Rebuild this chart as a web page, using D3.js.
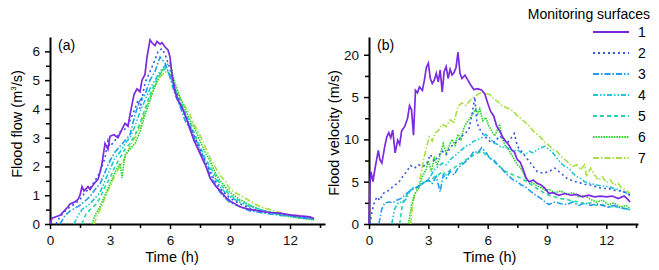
<!DOCTYPE html>
<html>
<head>
<meta charset="utf-8">
<script src="https://cdn.jsdelivr.net/npm/d3@7"></script>
<style>
  body { margin: 0; background: #fff; }
  svg { font-family: "Liberation Sans", Arial, sans-serif; }
</style>
</head>
<body>
<svg id="chart" width="659" height="270"></svg>
<script>
// Monitoring surfaces 1..7
const surfaces = ["1", "2", "3", "4", "5", "6", "7"];
const xTicks = [0, 3, 6, 9, 12];
const flowTicks = [0, 1, 2, 3, 4, 5, 6];
const velTicks = [0, 5, 10, 15, 20];
const velTickLabels = ["0", "5", "10", "5", "20"];

// (a) flood flow, [time h, m3/s]
const flow1 = [[0,0],[0.1,0.2],[0.3,0.25],[0.5,0.3],[0.7,0.45],[0.9,0.6],[1.0,0.7],[1.2,0.75],[1.4,0.85],[1.5,1.0],[1.6,1.3],[1.7,1.15],[1.9,1.3],[2.0,1.2],[2.2,1.4],[2.4,1.55],[2.5,1.8],[2.6,2.1],[2.75,2.8],[2.9,2.6],[3.0,3.05],[3.2,3.1],[3.4,3.0],[3.6,3.3],[3.75,3.5],[3.9,3.4],[4.0,3.8],[4.2,4.5],[4.35,4.7],[4.5,4.6],[4.6,5.0],[4.75,5.2],[4.85,5.8],[5.0,6.4],[5.1,6.3],[5.25,6.2],[5.35,6.35],[5.5,6.25],[5.6,6.3],[5.75,6.15],[5.9,6.05],[6.0,5.8],[6.1,5.2],[6.25,4.6],[6.4,4.3],[6.6,4.05],[6.8,3.7],[7.0,3.3],[7.2,2.9],[7.4,2.6],[7.6,2.3],[7.8,2.0],[8.0,1.6],[8.25,1.35],[8.5,1.15],[8.75,0.95],[9.0,0.8],[9.25,0.7],[9.5,0.6],[10.0,0.5],[10.5,0.45],[11.0,0.4],[11.5,0.38],[12.0,0.32],[12.5,0.28],[13.0,0.25],[13.2,0.18]];
const flow2 = [[0.3,0],[0.5,0.25],[0.75,0.45],[1.0,0.6],[1.25,0.7],[1.5,0.85],[1.75,1.1],[2.0,1.25],[2.25,1.5],[2.5,1.8],[2.75,2.3],[2.9,2.9],[3.0,2.7],[3.25,2.9],[3.5,3.2],[3.75,3.3],[4.0,3.6],[4.25,4.0],[4.4,4.3],[4.5,4.0],[4.75,4.9],[5.0,5.3],[5.25,5.7],[5.4,6.0],[5.6,6.1],[5.75,5.9],[6.0,5.4],[6.25,4.7],[6.5,4.2],[6.75,3.8],[7.0,3.4],[7.25,3.0],[7.5,2.6],[7.75,2.2],[8.0,1.8],[8.25,1.5],[8.5,1.25],[8.75,1.05],[9.0,0.9],[9.5,0.7],[10.0,0.55],[10.5,0.45],[11.0,0.4],[11.5,0.35],[12.0,0.3],[12.5,0.25],[13.2,0.2]];
const flow3 = [[0.5,0],[0.75,0.3],[1.0,0.45],[1.25,0.55],[1.5,0.65],[1.75,0.8],[2.0,0.95],[2.25,1.2],[2.5,1.4],[2.75,1.8],[3.0,2.2],[3.25,2.5],[3.5,2.7],[3.75,2.9],[4.0,3.1],[4.25,3.8],[4.5,4.3],[4.75,4.5],[5.0,5.0],[5.25,5.3],[5.5,5.8],[5.75,5.6],[6.0,5.1],[6.25,4.5],[6.5,4.1],[6.75,3.6],[7.0,3.3],[7.25,2.9],[7.5,2.5],[7.75,2.1],[8.0,1.7],[8.25,1.4],[8.5,1.1],[8.75,0.9],[9.0,0.75],[9.5,0.6],[10.0,0.45],[10.5,0.4],[11.0,0.35],[11.5,0.3],[12.0,0.28],[12.5,0.22],[13.2,0.18]];
const flow4 = [[1.2,0],[1.4,0.3],[1.6,0.5],[1.8,0.6],[2.0,0.7],[2.25,0.9],[2.5,1.1],[2.75,1.5],[3.0,1.9],[3.25,2.3],[3.5,2.5],[3.75,2.8],[4.0,3.0],[4.25,3.4],[4.5,3.9],[4.75,4.3],[5.0,4.7],[5.25,5.0],[5.5,5.3],[5.75,5.5],[6.0,5.2],[6.25,4.6],[6.5,4.2],[6.75,3.8],[7.0,3.4],[7.25,3.0],[7.5,2.6],[7.75,2.2],[8.0,1.9],[8.25,1.6],[8.5,1.3],[8.75,1.1],[9.0,0.95],[9.5,0.75],[10.0,0.6],[10.5,0.5],[11.0,0.4],[11.5,0.35],[12.0,0.3],[12.5,0.25],[13.2,0.2]];
const flow5 = [[1.6,0],[1.8,0.35],[2.0,0.5],[2.25,0.65],[2.5,0.9],[2.75,1.3],[3.0,1.6],[3.25,2.0],[3.5,2.3],[3.75,2.6],[4.0,2.8],[4.25,3.1],[4.5,3.5],[4.75,4.0],[5.0,4.5],[5.25,4.9],[5.5,5.2],[5.75,5.4],[6.0,5.2],[6.25,4.7],[6.5,4.3],[6.75,3.9],[7.0,3.5],[7.25,3.1],[7.5,2.7],[7.75,2.3],[8.0,2.0],[8.25,1.7],[8.5,1.4],[8.75,1.2],[9.0,1.0],[9.5,0.8],[10.0,0.65],[10.5,0.5],[11.0,0.42],[11.5,0.35],[12.0,0.28],[12.5,0.22],[13.2,0.15]];
const flow6 = [[2.1,0],[2.25,0.3],[2.5,0.6],[2.75,1.0],[3.0,1.4],[3.25,1.8],[3.5,2.1],[3.6,1.6],[3.75,2.4],[4.0,2.6],[4.25,2.8],[4.5,3.2],[4.75,3.8],[5.0,4.3],[5.25,4.8],[5.5,5.2],[5.75,5.5],[6.0,5.6],[6.1,5.3],[6.25,4.9],[6.5,4.4],[6.75,4.0],[7.0,3.6],[7.25,3.3],[7.5,2.9],[7.75,2.5],[8.0,2.2],[8.25,1.8],[8.5,1.5],[8.75,1.3],[9.0,1.1],[9.5,0.85],[10.0,0.65],[10.5,0.5],[11.0,0.4],[11.5,0.32],[12.0,0.25],[12.5,0.2],[13.2,0.15]];
const flow7 = [[2.2,0],[2.4,0.35],[2.6,0.65],[2.8,1.0],[3.0,1.3],[3.25,1.7],[3.5,2.0],[3.75,2.3],[4.0,2.7],[4.25,3.0],[4.5,3.4],[4.75,3.9],[5.0,4.4],[5.25,4.8],[5.5,5.1],[5.75,5.3],[6.0,5.2],[6.25,4.8],[6.5,4.4],[6.75,4.1],[7.0,3.8],[7.25,3.4],[7.5,3.1],[7.75,2.7],[8.0,2.3],[8.25,2.0],[8.5,1.7],[8.75,1.5],[9.0,1.2],[9.5,1.0],[10.0,0.8],[10.5,0.6],[11.0,0.5],[11.5,0.4],[12.0,0.3],[12.5,0.25],[13.2,0.2]];

// (b) flood velocity, [time h, m/s]
const vel1 = [[0,0],[0.05,4.8],[0.1,6.2],[0.2,5.0],[0.3,6.5],[0.47,8.7],[0.55,7.6],[0.65,7.2],[0.8,9.2],[0.9,10.3],[1.0,10.8],[1.1,10.2],[1.2,11.1],[1.32,8.4],[1.45,9.9],[1.55,9.4],[1.65,11.0],[1.8,11.5],[1.95,12.5],[2.05,14.0],[2.15,13.5],[2.25,10.5],[2.35,15.8],[2.45,15.5],[2.55,16.2],[2.7,15.8],[2.8,17.0],[2.9,18.5],[3.0,19.0],[3.1,17.2],[3.2,16.6],[3.3,17.0],[3.4,17.8],[3.5,16.8],[3.6,18.2],[3.7,15.6],[3.8,18.0],[3.9,18.6],[4.0,17.2],[4.1,18.3],[4.2,17.6],[4.3,17.9],[4.4,18.5],[4.5,20.3],[4.6,17.8],[4.7,17.2],[4.85,17.6],[5.0,17.0],[5.15,16.4],[5.3,15.9],[5.5,16.0],[5.7,15.8],[5.85,15.4],[6.0,14.3],[6.15,13.3],[6.3,12.8],[6.45,11.6],[6.6,11.0],[6.75,10.3],[6.9,9.8],[7.05,9.4],[7.2,8.8],[7.35,8.5],[7.5,7.6],[7.65,7.3],[7.8,6.4],[7.95,5.4],[8.1,5.0],[8.3,5.2],[8.5,4.8],[8.7,4.6],[8.9,4.2],[9.1,3.6],[9.3,3.7],[9.6,3.4],[9.9,3.6],[10.2,3.4],[10.5,3.5],[10.8,3.2],[11.1,3.4],[11.4,3.2],[11.7,3.3],[12.0,3.2],[12.3,3.3],[12.6,3.0],[12.9,3.3],[13.05,3.0],[13.2,2.6]];
const vel2 = [[0.05,0],[0.15,1.5],[0.25,2.4],[0.4,3.2],[0.55,2.8],[0.7,3.6],[0.9,3.8],[1.1,4.2],[1.3,4.6],[1.5,4.9],[1.7,5.6],[1.9,6.2],[2.1,6.9],[2.3,6.6],[2.5,7.0],[2.7,6.8],[2.9,7.0],[3.1,8.2],[3.3,7.4],[3.5,8.0],[3.7,8.6],[3.9,8.2],[4.1,9.0],[4.3,9.5],[4.5,9.8],[4.7,10.4],[4.9,10.8],[5.05,11.2],[5.2,12.8],[5.35,15.0],[5.45,12.0],[5.6,11.2],[5.8,10.5],[6.0,10.0],[6.2,9.6],[6.4,9.8],[6.6,10.4],[6.8,10.0],[7.0,9.6],[7.2,10.2],[7.35,10.7],[7.5,9.2],[7.7,8.6],[7.9,8.0],[8.1,7.4],[8.3,6.8],[8.5,6.2],[8.8,6.0],[9.1,6.2],[9.4,6.6],[9.7,6.0],[10.0,5.4],[10.3,5.1],[10.6,4.9],[10.9,4.7],[11.2,4.6],[11.5,4.4],[11.8,4.2],[12.1,4.2],[12.4,4.0],[12.7,3.9],[13.0,3.7],[13.2,3.4]];
const vel3 = [[0.5,0],[0.65,1.8],[0.8,2.5],[1.0,2.6],[1.2,2.5],[1.4,2.8],[1.6,3.0],[1.8,3.4],[2.0,3.8],[2.2,4.1],[2.4,4.3],[2.6,4.6],[2.8,4.9],[3.0,5.2],[3.2,4.8],[3.4,5.6],[3.6,3.8],[3.75,5.8],[3.9,5.4],[4.1,6.2],[4.3,5.8],[4.5,6.6],[4.7,7.0],[4.9,7.4],[5.1,7.9],[5.3,8.6],[5.5,8.4],[5.7,9.0],[5.9,8.5],[6.1,7.8],[6.3,7.6],[6.5,7.0],[6.7,6.6],[6.9,6.0],[7.1,5.6],[7.3,5.2],[7.5,5.0],[7.7,4.6],[7.9,4.4],[8.1,4.0],[8.3,3.6],[8.5,3.3],[8.7,3.0],[8.9,2.6],[9.1,2.3],[9.4,2.6],[9.7,2.4],[10.0,2.3],[10.3,2.6],[10.6,2.2],[10.9,2.5],[11.2,2.2],[11.5,2.4],[11.8,2.2],[12.1,2.0],[12.4,2.2],[12.7,1.9],[13.0,1.8],[13.2,1.7]];
const vel4 = [[1.15,0],[1.3,1.8],[1.5,2.6],[1.7,2.5],[1.9,3.0],[2.1,4.0],[2.3,4.4],[2.5,4.2],[2.7,4.8],[2.9,5.0],[3.1,5.6],[3.3,6.4],[3.5,6.8],[3.7,7.2],[3.9,7.0],[4.1,7.6],[4.3,8.0],[4.5,8.4],[4.7,8.8],[4.9,9.2],[5.1,9.4],[5.3,9.8],[5.5,10.0],[5.7,10.2],[5.9,10.6],[6.1,10.2],[6.3,9.6],[6.5,9.4],[6.7,9.0],[6.9,9.2],[7.1,8.8],[7.3,8.6],[7.5,8.8],[7.7,8.4],[7.9,8.2],[8.1,8.6],[8.3,8.4],[8.5,8.8],[8.7,9.0],[8.9,9.2],[9.1,8.8],[9.3,8.4],[9.5,7.8],[9.7,7.2],[9.9,6.8],[10.1,6.6],[10.3,6.0],[10.5,5.6],[10.7,5.4],[10.9,5.0],[11.2,4.8],[11.5,4.6],[11.8,4.5],[12.1,4.4],[12.4,4.2],[12.7,4.0],[13.0,3.7],[13.2,3.3]];
const vel5 = [[1.55,0],[1.7,2.5],[1.9,3.4],[2.1,4.0],[2.3,4.2],[2.5,4.5],[2.7,4.8],[2.9,5.2],[3.1,5.0],[3.3,5.6],[3.5,5.8],[3.7,6.2],[3.9,5.8],[4.1,6.4],[4.3,6.6],[4.5,7.0],[4.7,7.2],[4.9,7.6],[5.1,7.8],[5.3,8.2],[5.5,8.4],[5.7,8.6],[5.9,8.2],[6.1,7.8],[6.3,7.4],[6.5,7.0],[6.7,6.6],[6.9,6.2],[7.1,6.0],[7.3,5.8],[7.5,5.6],[7.7,5.4],[7.9,5.1],[8.1,4.8],[8.3,4.5],[8.5,4.2],[8.7,3.9],[8.9,3.6],[9.1,3.4],[9.4,3.2],[9.7,3.0],[10.0,2.9],[10.3,2.7],[10.6,2.6],[10.9,2.4],[11.2,2.5],[11.5,2.2],[11.8,2.3],[12.1,2.0],[12.4,2.1],[12.7,1.9],[13.0,1.8],[13.2,1.7]];
const vel6 = [[2.0,0],[2.15,2.2],[2.3,3.5],[2.5,4.2],[2.7,5.6],[2.9,6.5],[3.0,7.5],[3.15,6.2],[3.3,7.8],[3.45,6.9],[3.6,8.2],[3.75,9.5],[3.9,8.4],[4.05,9.2],[4.2,10.0],[4.35,9.3],[4.5,10.6],[4.65,10.0],[4.8,11.4],[4.95,12.0],[5.1,12.5],[5.25,13.0],[5.4,13.6],[5.5,13.0],[5.6,13.6],[5.75,12.2],[5.9,12.6],[6.05,11.6],[6.2,11.0],[6.35,10.4],[6.5,11.2],[6.6,11.8],[6.75,10.0],[6.9,9.2],[7.05,8.8],[7.2,8.2],[7.35,7.6],[7.5,7.0],[7.65,6.7],[7.8,6.0],[7.95,5.2],[8.1,5.0],[8.3,4.8],[8.5,4.5],[8.7,4.3],[8.9,4.0],[9.1,4.1],[9.4,3.7],[9.7,3.9],[10.0,3.5],[10.3,3.7],[10.6,3.2],[10.9,3.4],[11.2,2.9],[11.5,2.6],[11.8,2.8],[12.1,2.3],[12.4,2.5],[12.7,2.0],[13.0,2.2],[13.2,1.8]];
const vel7 = [[2.1,0],[2.2,2.0],[2.3,3.5],[2.45,4.2],[2.6,5.5],[2.75,7.5],[2.9,9.0],[3.05,10.3],[3.2,9.8],[3.35,10.8],[3.5,11.0],[3.7,11.8],[3.9,11.5],[4.1,12.3],[4.3,12.0],[4.5,13.9],[4.7,14.3],[4.9,14.0],[5.1,14.6],[5.3,15.0],[5.5,15.3],[5.7,15.6],[5.9,15.4],[6.1,15.3],[6.3,14.8],[6.5,14.5],[6.7,14.0],[6.9,13.8],[7.1,13.6],[7.3,13.3],[7.5,12.8],[7.7,12.4],[7.9,12.0],[8.1,11.6],[8.3,11.0],[8.5,10.6],[8.7,10.2],[8.9,9.6],[9.1,9.3],[9.3,8.8],[9.5,8.6],[9.7,8.0],[9.9,7.6],[10.1,7.2],[10.3,6.8],[10.5,7.0],[10.7,6.4],[10.9,7.0],[11.0,5.6],[11.2,6.6],[11.4,5.8],[11.6,5.2],[11.8,5.6],[12.0,4.9],[12.2,5.2],[12.4,4.6],[12.6,4.8],[12.8,4.2],[13.0,4.0],[13.2,3.6]];

const flowSeries = [flow1, flow2, flow3, flow4, flow5, flow6, flow7];
const velSeries = [vel1, vel2, vel3, vel4, vel5, vel6, vel7];

// line styles per surface
const colors = ["#7a2ae0", "#3558e6", "#1fa0ee", "#1ec6d6", "#26d8a4", "#2fd42f", "#a8e043"];
const dashes = [null, "2,3", "6,2,1.5,2", "5,2,1.5,2,1.5,2", "4,3", "1.6,1", "6,2,1.5,2"];

let svg = d3.select("#chart");

function drawPanel(opts) {
    let x = d3.scaleLinear().domain([0, opts.xMax]).range([opts.left, opts.right]);
    let y = d3.scaleLinear().domain([0, opts.yMax]).range([224, 37]);
    let g = svg.append("g");

    // minor ticks first
    g.append("g")
        .attr("transform", "translate(0,224)")
        .call(d3.axisBottom(x).tickValues(d3.range(1.5, opts.xMax, 3)).tickSize(4).tickFormat(""))
        .call(a => a.select(".domain").remove())
        .selectAll("line").attr("stroke-width", 1.5);
    g.append("g")
        .attr("transform", `translate(${opts.left},0)`)
        .call(d3.axisLeft(y).tickValues(opts.yMinor).tickSize(4).tickFormat(""))
        .call(a => a.select(".domain").remove())
        .selectAll("line").attr("stroke-width", 1.5);

    let xa = g.append("g")
        .attr("transform", "translate(0,224)")
        .call(d3.axisBottom(x).tickValues(xTicks).tickSize(5).tickSizeOuter(0).tickPadding(6));
    let ya = g.append("g")
        .attr("transform", `translate(${opts.left},0)`)
        .call(d3.axisLeft(y).tickValues(opts.yTicks).tickSize(5).tickSizeOuter(0).tickPadding(5)
            .tickFormat((d, i) => opts.yLabels[i]));
    [xa, ya].forEach(a => {
        a.select(".domain").attr("stroke-width", 2);
        a.selectAll(".tick line").attr("stroke-width", 1.5);
        a.selectAll("text").attr("font-size", 13.5).attr("fill", "#111")
            .attr("font-family", "Liberation Sans, Arial, sans-serif");
    });

    let line = d3.line().x(d => x(d[0])).y(d => y(d[1]));
    // draw back to front so surface 1 is on top
    opts.series.slice().reverse().forEach((s, k) => {
        let i = opts.series.length - 1 - k;
        g.append("path")
            .datum(s)
            .attr("d", line)
            .attr("fill", "none")
            .attr("stroke", colors[i])
            .attr("stroke-width", i === 0 ? 1.7 : 1.6)
            .attr("stroke-dasharray", dashes[i]);
    });

    g.append("text")
        .attr("x", opts.left + 8).attr("y", 50)
        .attr("font-size", 14).text(opts.tag);

    g.append("text")
        .attr("x", (x(0) + x(12)) / 2 + 2).attr("y", 262)
        .attr("text-anchor", "middle").attr("font-size", 14.5)
        .text("Time (h)");
}

drawPanel({ left: 50, right: 325, xMax: 13.75, yMax: 6.5, yTicks: flowTicks,
    yLabels: flowTicks.map(String), yMinor: d3.range(0.5, 6.5, 1),
    series: flowSeries, tag: "(a)" });

drawPanel({ left: 369, right: 638, xMax: 13.6, yMax: 22.1, yTicks: velTicks,
    yLabels: velTickLabels, yMinor: d3.range(2.5, 22, 5),
    series: velSeries, tag: "(b)" });

// y axis titles
let t1 = svg.append("text")
    .attr("transform", "translate(22,124) rotate(-90)")
    .attr("text-anchor", "middle").attr("font-size", 14.5);
t1.append("tspan").text("Flood flow (m");
t1.append("tspan").attr("font-size", 8).attr("dy", -6).text("3");
t1.append("tspan").attr("dy", 6).text("/s)");

svg.append("text")
    .attr("transform", "translate(339,133) rotate(-90)")
    .attr("text-anchor", "middle").attr("font-size", 14.5)
    .text("Flood velocity (m/s)");

// legend
let legend = svg.append("g");
legend.append("text")
    .attr("x", 650).attr("y", 19)
    .attr("text-anchor", "end").attr("font-size", 14)
    .text("Monitoring surfaces");
surfaces.forEach((s, i) => {
    let yy = 32 + i * 21;
    legend.append("line")
        .attr("x1", 593).attr("x2", 629).attr("y1", yy).attr("y2", yy)
        .attr("stroke", colors[i]).attr("stroke-width", 1.8)
        .attr("stroke-dasharray", dashes[i]);
    legend.append("text")
        .attr("x", 638).attr("y", yy + 5)
        .attr("font-size", 14).text(s);
});
</script>
</body>
</html>
